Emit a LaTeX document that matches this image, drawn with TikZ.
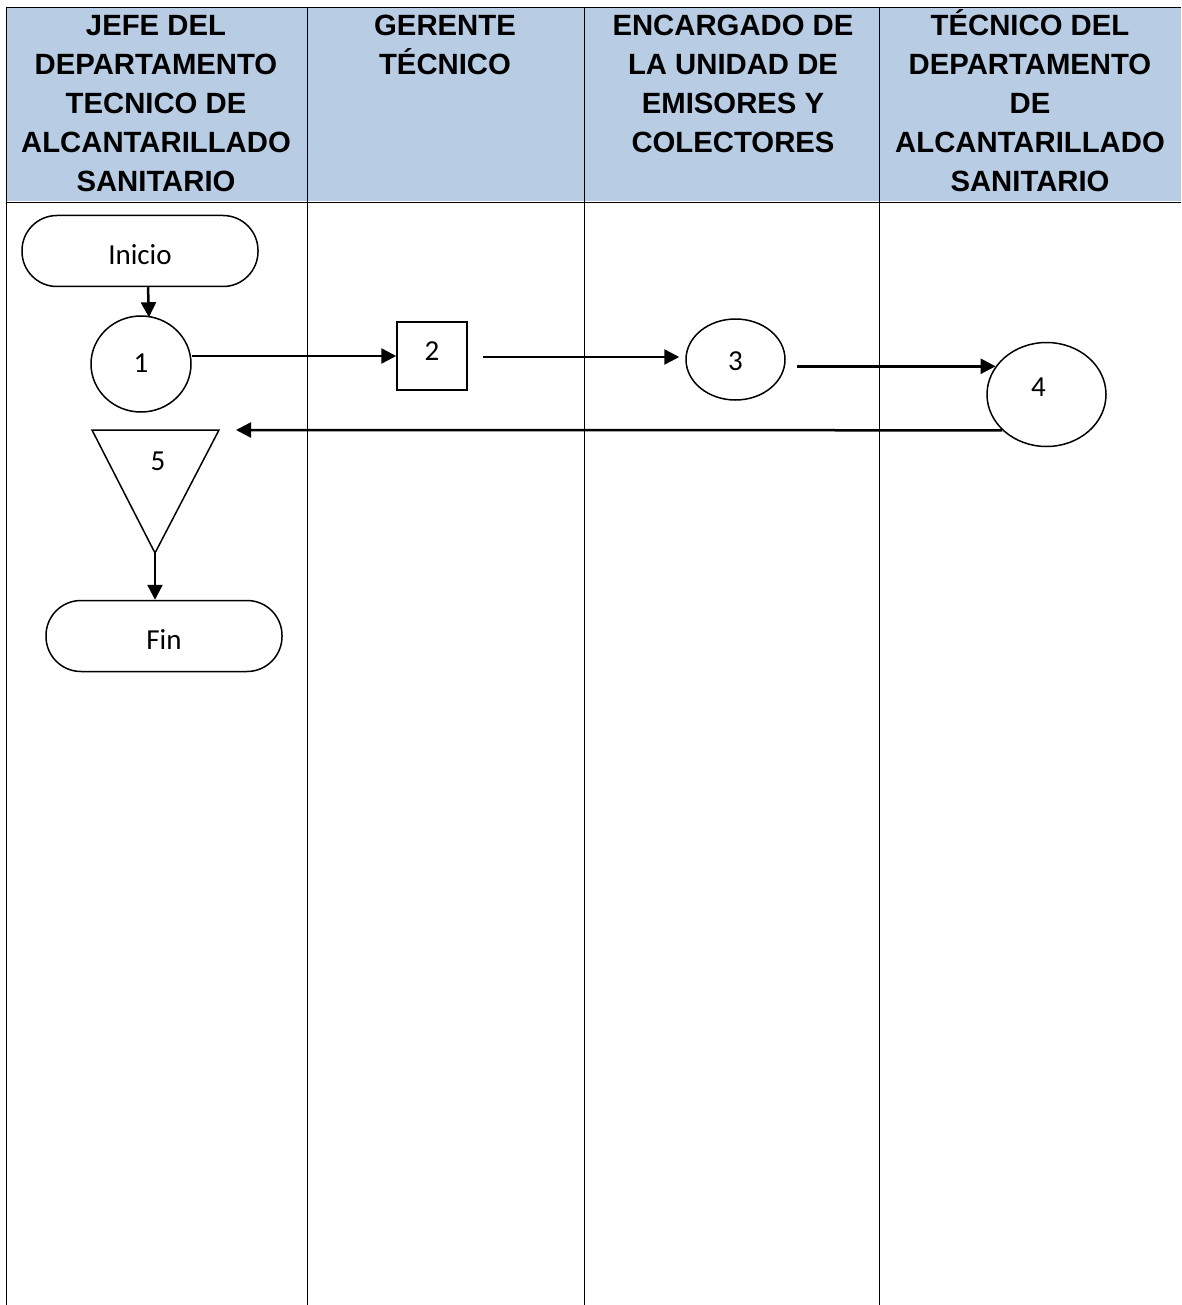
\documentclass[tikz,border=0pt]{standalone}
\usepackage{fontspec}
\setmainfont{Carlito}
\newfontfamily\cabfont{Liberation Sans}
\usepackage{xcolor}
\usetikzlibrary{arrows.meta, shapes.geometric, calc}

\definecolor{cabecera}{HTML}{B8CCE4}

\tikzset{
    carril/.style={line width=0.8pt},
    cab/.style={anchor=north, align=center, inner sep=0pt,
        font=\cabfont\bfseries\fontsize{29.3}{39}\selectfont},
    flecha/.style={line width=2.5pt, -{Triangle[length=15pt, width=15pt]}},
    terminal/.style={draw, line width=1.5pt, rounded corners=35pt,
        minimum width=236pt, minimum height=71pt},
    actividad/.style={draw, line width=1.5pt, ellipse, inner sep=0pt},
    texto/.style={font=\fontsize{29}{33}\selectfont}
}

\begin{document}
\begin{tikzpicture}[x=1pt, y=-1pt, texto]
    \useasboundingbox (0,0) rectangle (1181,1305);

    % cabecera y carriles
    \fill[cabecera] (7,8) rectangle (1181,201);
    \draw[carril] (6,7) -- (1181,7);
    \draw[carril] (6,202) -- (1181,202);
    \foreach \x in {6,307,584,879}
        \draw[carril] (\x,7) -- (\x,1305);

    \node[cab] (jefe) at (156,5) {\rule{0pt}{30pt}JEFE DEL\\DEPARTAMENTO\\TECNICO DE\\ALCANTARILLADO\\SANITARIO};
    \node[cab] (gerente) at (445,5) {\rule{0pt}{30pt}GERENTE\\TÉCNICO};
    \node[cab] (encargado) at (733,5) {\rule{0pt}{30pt}ENCARGADO DE\\LA UNIDAD DE\\EMISORES Y\\COLECTORES};
    \node[cab] (tecnico) at (1030,5) {\rule{0pt}{30pt}TÉCNICO DEL\\DEPARTAMENTO\\DE\\ALCANTARILLADO\\SANITARIO};

    % simbolos
    \node[terminal, label={[texto, yshift=-4pt]center:Inicio}] (inicio) at (140,251) {};
    \node[actividad, minimum width=100pt, minimum height=96pt,
        label={[yshift=1pt]center:1}] (n1) at (141,364) {};
    \node[draw, line width=1.5pt, minimum width=70pt, minimum height=68pt,
        label={[yshift=5pt]center:2}] (n2) at (432,356) {};
    \node[actividad, minimum width=99pt, minimum height=81pt,
        label={[yshift=-2pt]center:3}] (n3) at (735.5,359.5) {};
    \node[actividad, minimum width=119pt, minimum height=104pt,
        label={[xshift=-8pt, yshift=7pt]center:4}] (n4) at (1046.5,394.5) {};
    \coordinate (t5a) at (92,430);
    \coordinate (t5b) at (219,430);
    \coordinate (t5c) at (155,553);
    \draw[line width=1.5pt] (t5a) -- (t5b) -- (t5c) -- cycle;
    \node (n5) at (158,461) {5};
    \node[terminal, label={[texto, yshift=-4pt]center:Fin}] (fin) at (164,636) {};

    % flujo
    \draw[flecha] ($(inicio.south)+(8,0)$) -- ($(n1.north)+(8,2)$);
    \draw[flecha] (n1.east |- n2.west) -- (n2.west);
    \draw[flecha] ($(n2.east)+(15,1)$) -- ($(n2.east -| n3.west)+(-6,1)$);
    \draw[flecha] ($(n3.east |- n4.151)+(11,0)$) -- (n4.151);
    \draw[flecha] (n4.219) -- ($(t5b)+(17,0)$);
    \draw[flecha] (t5c) -- (t5c |- fin.north);
\end{tikzpicture}
\end{document}
